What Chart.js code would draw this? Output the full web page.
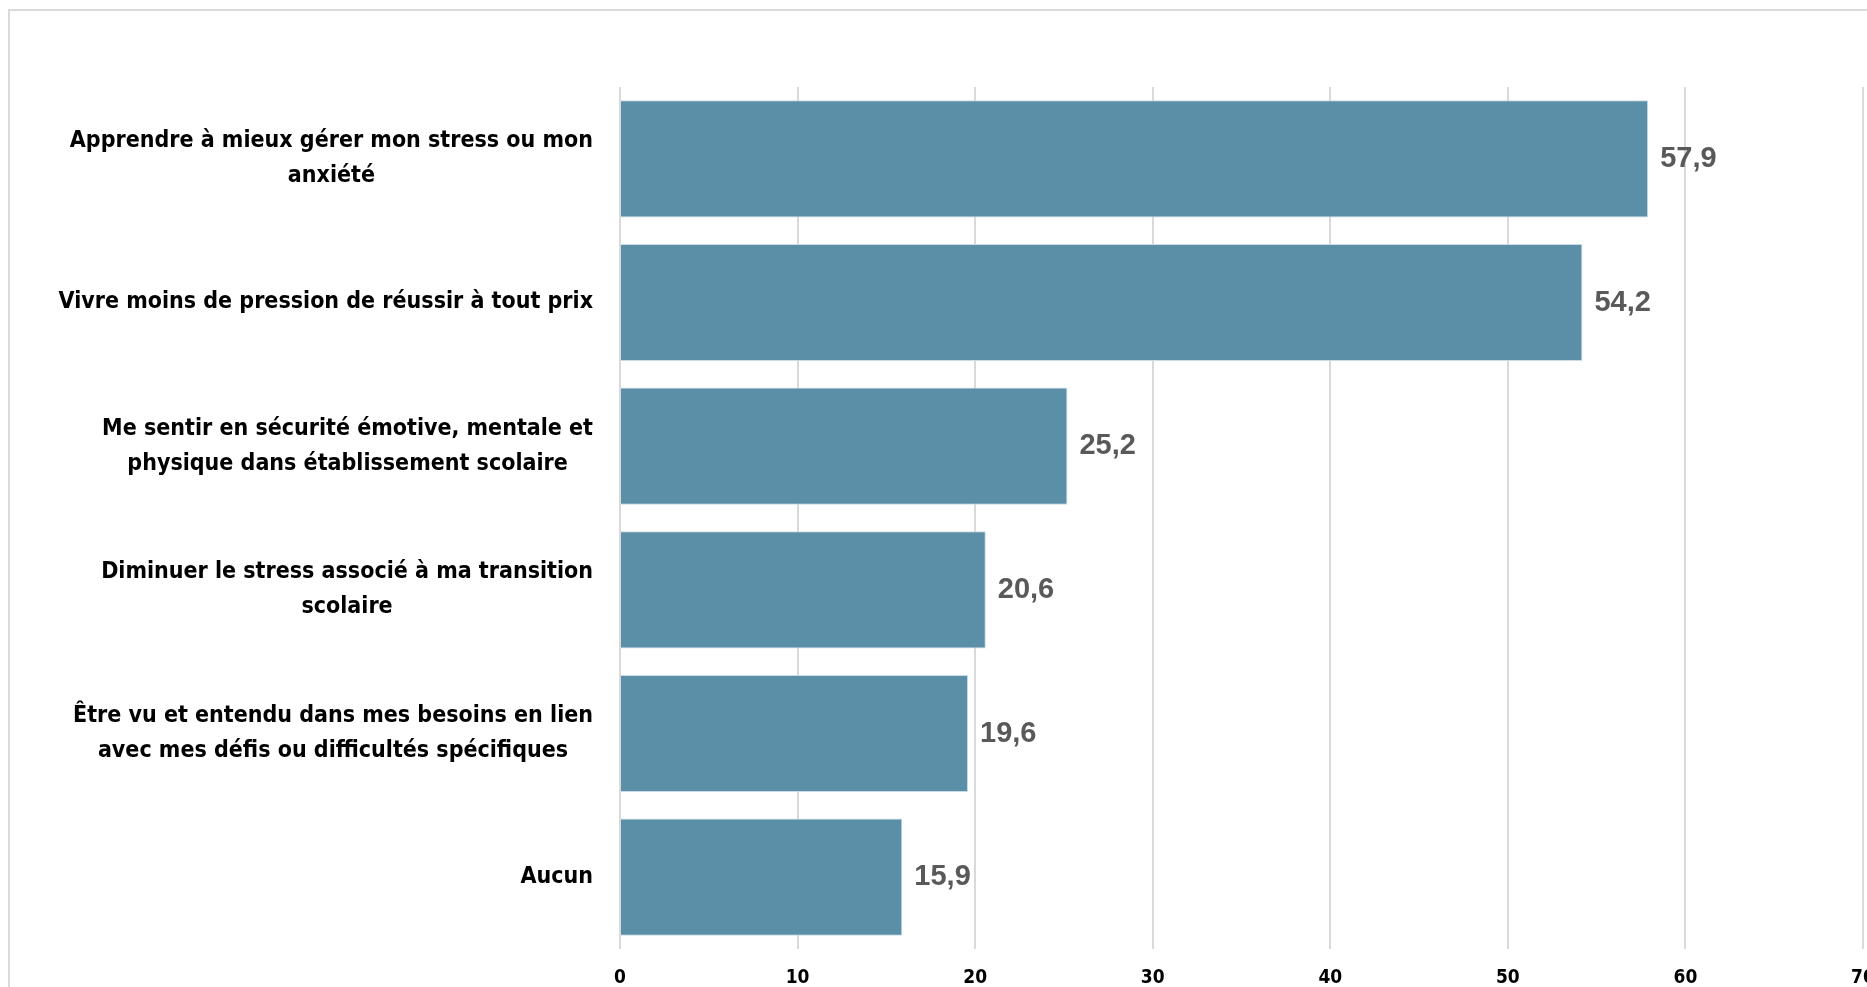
<!DOCTYPE html>
<html lang="fr">
<head>
<meta charset="utf-8">
<title>Besoins</title>
<script src="https://cdn.jsdelivr.net/npm/chart.js@4"></script>
<style>
    html, body { margin: 0; padding: 0; background: #fff; overflow: hidden; width: 1867px; height: 987px; }
    #frame { position: absolute; left: 8px; top: 9px; width: 1950px; height: 1100px; border: 2px solid #d9d9d9; }
    #besoinsChart { position: absolute; left: 0; top: 0; }
</style>
</head>
<body>
<div id="frame"></div>
<canvas id="besoinsChart" width="1900" height="987"></canvas>
<script>
const categories = [
    ['Apprendre à mieux gérer mon stress ou mon', 'anxiété'],
    ['Vivre moins de pression de réussir à tout prix'],
    ['Me sentir en sécurité émotive, mentale et', 'physique dans établissement scolaire'],
    ['Diminuer le stress associé à ma transition', 'scolaire'],
    ['Être vu et entendu dans mes besoins en lien', 'avec mes défis ou difficultés spécifiques'],
    ['Aucun']
];
const values = [57.9, 54.2, 25.2, 20.6, 19.6, 15.9];
const xTicks = [0, 10, 20, 30, 40, 50, 60, 70];

const barColor = '#5b8fa8';
const narrowFamily = '"Liberation Sans Narrow", "DejaVu Sans Condensed", sans-serif';
const labelFont = 'bold 23px ' + narrowFamily;

let besoinsChart;

// étiquettes de catégories : bloc aligné à droite, lignes centrées (comme Excel)
const categoryLabels = {
    id: 'categoryLabels',
    afterDraw(chart) {
        const ctx = chart.ctx;
        const y = chart.scales.y;
        const right = chart.chartArea.left - 27;
        const lineH = 35;
        ctx.save();
        ctx.font = labelFont;
        ctx.fillStyle = '#000';
        ctx.textAlign = 'center';
        ctx.textBaseline = 'middle';
        categories.forEach((lines, i) => {
            const widest = Math.max(...lines.map(l => ctx.measureText(l).width));
            const cx = right - widest / 2;
            const cy = y.getPixelForValue(i);
            const top = cy - (lines.length - 1) * lineH / 2;
            lines.forEach((l, k) => ctx.fillText(l, cx, top + k * lineH));
        });
        ctx.restore();
    }
};

// valeurs à droite des barres
const valueLabels = {
    id: 'valueLabels',
    afterDatasetsDraw(chart) {
        const ctx = chart.ctx;
        const meta = chart.getDatasetMeta(0);
        ctx.save();
        ctx.font = 'bold 29px "Liberation Sans", Arial, sans-serif';
        ctx.fillStyle = '#595959';
        ctx.textAlign = 'left';
        ctx.textBaseline = 'middle';
        meta.data.forEach((bar, i) => {
            ctx.fillText(values[i].toFixed(1).replace('.', ','), bar.x + 12, bar.y);
        });
        ctx.restore();
    }
};

document.addEventListener('DOMContentLoaded', () => {
    initChart();
});

function initChart() {
    const ctx = document.getElementById('besoinsChart').getContext('2d');

    besoinsChart = new Chart(ctx, {
        type: 'bar',
        data: {
            labels: categories.map(c => c.join(' ')),
            datasets: [{
                data: values,
                backgroundColor: barColor,
                borderColor: '#c9dbe4',
                borderWidth: 1,
                categoryPercentage: 1,
                barPercentage: 0.815
            }]
        },
        options: {
            indexAxis: 'y',
            responsive: false,
            animation: false,
            layout: { padding: { top: 87, right: 37, bottom: 0, left: 0 } },
            plugins: {
                legend: { display: false },
                tooltip: { enabled: false }
            },
            scales: {
                x: {
                    min: 0,
                    max: 70,
                    afterBuildTicks: scale => { scale.ticks = xTicks.map(v => ({ value: v })); },
                    grid: { color: '#d9d9d9', lineWidth: 2, drawTicks: false },
                    border: { display: false },
                    ticks: {
                        padding: 18,
                        color: '#000',
                        font: { family: narrowFamily, size: 19, weight: 'bold' }
                    },
                    afterFit: scale => { scale.height = 38; }
                },
                y: {
                    grid: { display: false },
                    border: { display: false },
                    ticks: { display: false },
                    afterFit: scale => { scale.width = 620; }
                }
            }
        },
        plugins: [categoryLabels, valueLabels]
    });
}
</script>
</body>
</html>
